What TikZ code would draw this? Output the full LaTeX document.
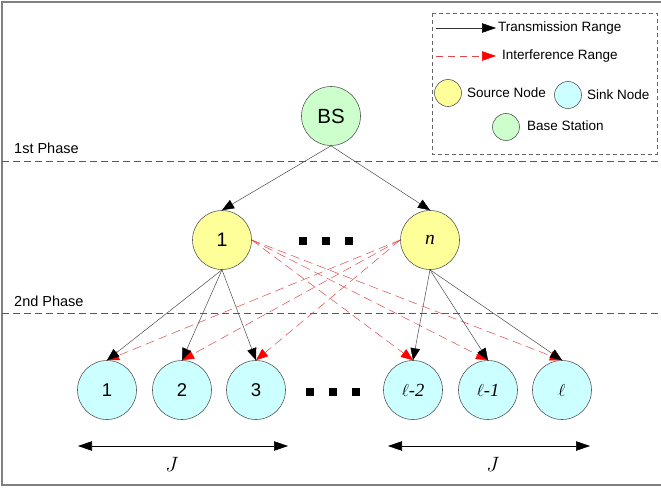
\documentclass[tikz,border=0pt]{standalone}
\usepackage{fontspec}
\setmainfont{Liberation Sans}
\newfontfamily\serifit{Liberation Serif}
\usetikzlibrary{arrows.meta}
\definecolor{srcfill}{HTML}{FFFF99}
\definecolor{sinkfill}{HTML}{CCFFFF}
\definecolor{bsfill}{HTML}{CCFFCC}
\definecolor{intred}{HTML}{E0474C}
\tikzset{
  circ/.style={circle, draw=black!65, line width=0.6pt, minimum size=59pt, inner sep=0pt},
  srcnode/.style={circ, fill=srcfill, font=\fontsize{19.5}{19.5}\selectfont},
  sinknode/.style={circ, fill=sinkfill, font=\fontsize{18.5}{18.5}\selectfont},
  bsnode/.style={circ, fill=bsfill, font=\fontsize{20.5}{20.5}\selectfont},
  legcirc/.style={circ, minimum size=27pt},
  txline/.style={draw=black!70, line width=0.5pt, -{Triangle[length=12pt,width=9.5pt,color=black]}},
  intline/.style={draw=intred, line width=0.5pt, dash pattern=on 9pt off 5pt, -{Triangle[length=12pt,width=9.5pt,color=red]}},
  phaseline/.style={draw=black!65, line width=0.6pt, dash pattern=on 7pt off 4pt},
  phasetext/.style={anchor=west, inner sep=0pt, font=\fontsize{14.5}{14.5}\selectfont},
  legtext/.style={anchor=west, inner sep=0pt, font=\fontsize{13.5}{13.5}\selectfont},
  dotbox/.style={fill=black, minimum size=8pt, inner sep=0pt},
  spanarrow/.style={draw=black, line width=0.6pt, {Triangle[length=14pt,width=9.5pt]}-{Triangle[length=14pt,width=9.5pt]}},
}
\begin{document}
\begin{tikzpicture}[x=1pt,y=-1pt]
\useasboundingbox (0,0) rectangle (661,489);
% frame
\draw[black!50, line width=1.2pt] (661,2) -- (2,2) -- (2,485) -- (661,485);

% phase lines
\coordinate (p1a) at (2,161); \coordinate (p1b) at (661,161);
\coordinate (p2a) at (2,313); \coordinate (p2b) at (661,313);
\draw[phaseline] (p1a) -- (p1b);
\draw[phaseline] (p2a) -- (p2b);
\node[phasetext] (ph1) at (14,148) {1st Phase};
\node[phasetext] (ph2) at (14,301) {2nd Phase};

% nodes
\node[bsnode] (bs) at (331,116) {BS};
\node[srcnode] (src1) at (222,240) {1};
\node[srcnode] (srcn) at (430,240) {\serifit\itshape n};
\node[sinknode] (k1) at (107,390) {1};
\node[sinknode] (k2) at (182,390) {2};
\node[sinknode] (k3) at (256,390) {3};
\node[sinknode] (kl2) at (413,390) {$\ell$\serifit\itshape -2};
\node[sinknode] (kl1) at (488,390) {$\ell$\serifit\itshape -1};
\node[sinknode] (kl) at (562,390) {$\ell$};

% dots
\node[dotbox] (d1) at (303,241) {};
\node[dotbox] (d2) at (326,241) {};
\node[dotbox] (d3) at (349,241) {};
\node[dotbox] (d4) at (310,392) {};
\node[dotbox] (d5) at (333,392) {};
\node[dotbox] (d6) at (356,392) {};

% interference (red dashed)
\draw[intline] (src1.east) -- (kl2.north);
\draw[intline] (src1.east) -- (kl1.north);
\draw[intline] (src1.east) -- (kl.north);
\draw[intline] (srcn.west) -- (k1.north);
\draw[intline] (srcn.west) -- (k2.north);
\draw[intline] (srcn.west) -- (k3.north);

% transmission (black)
\draw[txline] (bs.south) -- (src1.north);
\draw[txline] (bs.south) -- (srcn.north);
\draw[txline] (src1.south) -- (k1.north);
\draw[txline] (src1.south) -- (k2.north);
\draw[txline] (src1.south) -- (k3.north);
\draw[txline] (srcn.south) -- (kl2.north);
\draw[txline] (srcn.south) -- (kl1.north);
\draw[txline] (srcn.south) -- (kl.north);

% J spans
\coordinate (ja) at (78,446); \coordinate (jb) at (288,446);
\coordinate (jc) at (388,446); \coordinate (jd) at (590,446);
\draw[spanarrow] (ja) -- (jb);
\draw[spanarrow] (jc) -- (jd);
\node[font=\fontsize{21}{21}\selectfont] (j1) at (172,464) {$J$};
\node[font=\fontsize{21}{21}\selectfont] (j2) at (493,464) {$J$};

% legend
\draw[draw=black!60, line width=0.6pt, dash pattern=on 4pt off 3pt] (432,13) rectangle (657,154);
\coordinate (lt1) at (436,28); \coordinate (lt2) at (496,28);
\draw[draw=black!80, line width=0.5pt, -{Triangle[length=14pt,width=9.5pt,color=black]}] (lt1) -- (lt2);
\node[legtext] (ltt) at (498,28) {Transmission Range};
\coordinate (li1) at (436,56); \coordinate (li2) at (496,56);
\draw[draw=intred, line width=0.5pt, dash pattern=on 7pt off 5pt, -{Triangle[length=14pt,width=9.5pt,color=red]}] (li1) -- (li2);
\node[legtext] (lit) at (502,56) {Interference Range};
\node[legcirc, fill=srcfill] (lsrc) at (448,93) {};
\node[legtext] (lsrct) at (467,93) {Source Node};
\node[legcirc, fill=sinkfill] (lsink) at (568,95) {};
\node[legtext] (lsinkt) at (587,95) {Sink Node};
\node[legcirc, fill=bsfill] (lbs) at (506,127) {};
\node[legtext] (lbst) at (527,126) {Base Station};
\end{tikzpicture}
\end{document}
